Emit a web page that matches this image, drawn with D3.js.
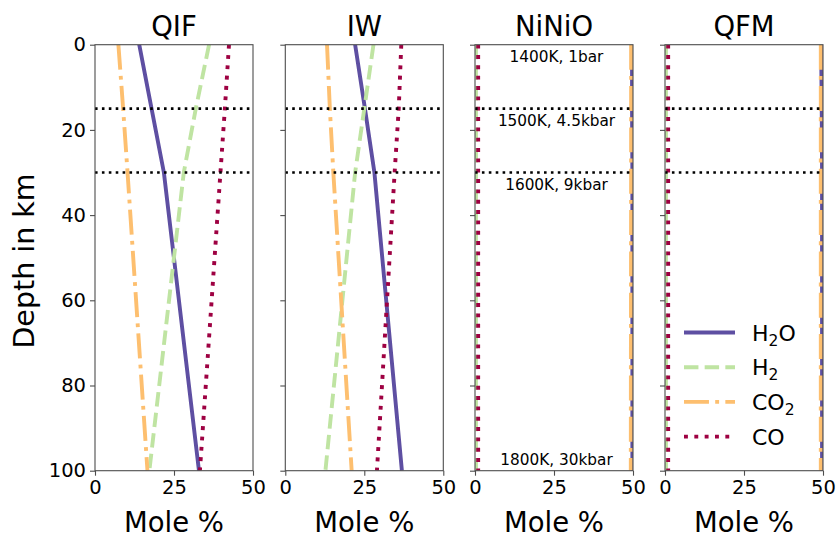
<!DOCTYPE html>
<html><head><meta charset="utf-8">
<script src="https://cdn.jsdelivr.net/npm/d3@7"></script>
<style>body{margin:0;background:#fff} text{font-family:"DejaVu Sans",sans-serif;fill:#000}</style>
</head><body><svg id="c" width="837" height="538"></svg>
<script>
// ---- data ----
const depths = [0, 15, 30, 100];
const panels = ["QIF", "IW", "NiNiO", "QFM"];
const seriesNames = ["H2O", "H2", "CO2", "CO"];
const h2oValues = { QIF: [14.0, 17.9, 21.8, 32.9], IW: [22.1, 25.2, 28.2, 36.9], NiNiO: [49.7, 49.7, 49.8, 49.8], QFM: [49.4, 49.6, 49.7, 49.7] };
const h2Values  = { QIF: [36.1, 31.9, 28.1, 17.2], IW: [27.9, 25.0, 22.1, 12.7], NiNiO: [0.3, 0.3, 0.3, 0.3], QFM: [0.3, 0.3, 0.3, 0.3] };
const co2Values = { QIF: [7.4, 8.9, 10.3, 16.6],  IW: [13.2, 14.1, 15.2, 21.0], NiNiO: [49.4, 49.4, 49.4, 49.3], QFM: [49.3, 49.3, 49.3, 49.3] };
const coValues  = { QIF: [42.4, 41.1, 39.7, 33.2], IW: [36.7, 35.9, 34.6, 29.0], NiNiO: [1.0, 1.0, 1.0, 1.0], QFM: [1.0, 1.0, 1.0, 1.0] };
const boundaryDepths = [15, 30];
const xTicks = [0, 25, 50];
const yTicks = [0, 20, 40, 60, 80, 100];
const annotations = ["1400K, 1bar", "1500K, 4.5kbar", "1600K, 9kbar", "1800K, 30kbar"];
const annotationDepths = [0, 15, 30, 100];

// ---- styles ----
const valuesBySeries = [h2oValues, h2Values, co2Values, coValues];
const colors = ["#5e4fa2", "#bfe4a2", "#fdbf6f", "#9e0142"];
const lw = 3.9;
const dashes = [null, `${3.7*lw},${1.6*lw}`, `${6.4*lw},${1.6*lw},${lw},${1.6*lw}`, `${lw},${1.65*lw}`];
const labelParts = [["H", "2", "O"], ["H", "2", ""], ["CO", "2", ""], ["CO", "", ""]];

const svg = d3.select("#c");
const panelLeft = [95, 285.3, 475, 665];
const panelW = 158;
const plotTop = 44.7, plotBottom = 470.7;
const y = d3.scaleLinear().domain([0, 100]).range([plotTop, plotBottom]);
const spine = "#4d4d4d";

panels.forEach((name, pi) => {
  const x = d3.scaleLinear().domain([0, 50]).range([panelLeft[pi], panelLeft[pi] + panelW]);
  const g = svg.append("g");
  const clipId = "clip" + pi;
  svg.append("clipPath").attr("id", clipId).append("rect")
    .attr("x", x(0)).attr("y", plotTop).attr("width", panelW).attr("height", plotBottom - plotTop);
  const plot = g.append("g").attr("clip-path", `url(#${clipId})`);

  valuesBySeries.forEach((vals, si) => {
    const pts = depths.map((d, i) => [vals[name][i], d]);
    plot.append("path")
      .attr("d", d3.line().x(p => x(p[0])).y(p => y(p[1]))(pts))
      .attr("fill", "none").attr("stroke", colors[si]).attr("stroke-width", lw)
      .attr("stroke-dasharray", dashes[si]);
  });

  boundaryDepths.forEach(d => {
    plot.append("line").attr("x1", x(0)).attr("x2", x(50)).attr("y1", y(d)).attr("y2", y(d))
      .attr("stroke", "#000").attr("stroke-width", 2.6).attr("stroke-dasharray", "2.6,4.3");
  });

  // axes
  const xa = g.append("g").attr("transform", `translate(0,${plotBottom})`)
    .call(d3.axisBottom(x).tickValues(xTicks).tickSize(5).tickPadding(4).tickFormat(d3.format("d")));
  const ya = g.append("g").attr("transform", `translate(${x(0)},0)`)
    .call(d3.axisLeft(y).tickValues(yTicks).tickSize(5).tickPadding(4).tickFormat(pi === 0 ? d3.format("d") : () => ""));
  [xa, ya].forEach(a => {
    a.select(".domain").remove();
    a.selectAll(".tick line").attr("stroke", spine).attr("stroke-width", 1.1);
    a.selectAll("text").attr("font-size", 19.5).attr("font-family", "DejaVu Sans").attr("fill", "#000");
  });
  g.append("rect").attr("x", x(0)).attr("y", plotTop).attr("width", panelW).attr("height", plotBottom - plotTop)
    .attr("fill", "none").attr("stroke", spine).attr("stroke-width", 1.1);

  g.append("text").attr("x", x(25)).attr("y", 36).attr("text-anchor", "middle")
    .attr("font-size", 27.5).text(name);
  g.append("text").attr("x", x(25)).attr("y", 532).attr("text-anchor", "middle")
    .attr("font-size", 27.5).text("Mole %");

  if (name === "NiNiO") {
    annotations.forEach((t, i) => {
      const d = annotationDepths[i];
      g.append("text").attr("x", x(25) + 2.5).attr("y", y(d) + (d === 100 ? -5.5 : 17.5))
        .attr("text-anchor", "middle").attr("font-size", 15.3).text(t);
    });
  }

  if (name === "QFM") {
    const lx = 684, ly0 = 332.5, dy = 34.7;
    seriesNames.forEach((s, si) => {
      const yy = ly0 + si * dy;
      g.append("line").attr("x1", lx).attr("x2", lx + 51).attr("y1", yy).attr("y2", yy)
        .attr("stroke", colors[si]).attr("stroke-width", lw).attr("stroke-dasharray", dashes[si]);
      const t = g.append("text").attr("x", lx + 68).attr("y", yy + 8).attr("font-size", 22);
      const p = labelParts[si];
      t.append("tspan").text(p[0]);
      if (p[1]) t.append("tspan").attr("font-size", 15.5).attr("dy", 5).text(p[1]);
      if (p[2]) t.append("tspan").attr("dy", -5).text(p[2]);
    });
  }
});

svg.append("text").attr("transform", `translate(34,261) rotate(-90)`)
  .attr("text-anchor", "middle").attr("font-size", 28.5).text("Depth in km");
</script>
</body></html>
